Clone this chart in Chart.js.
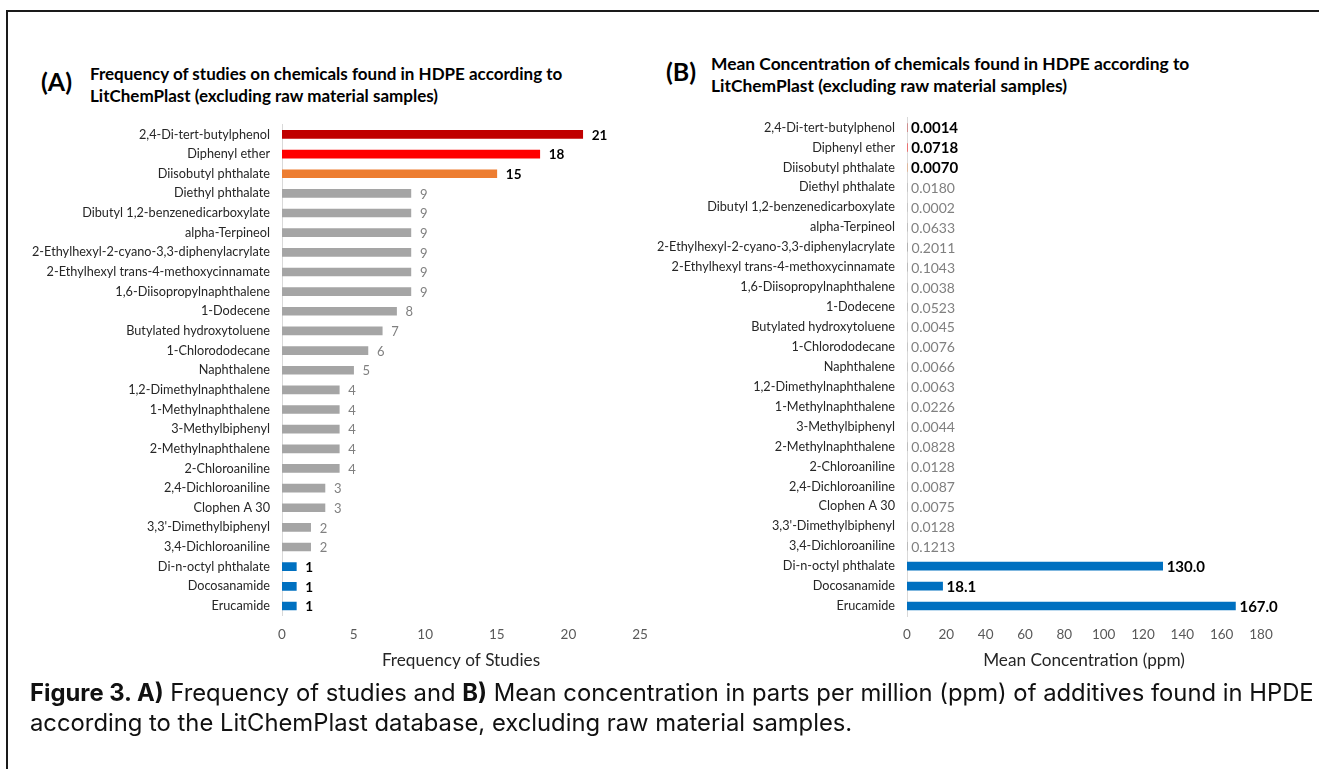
<!DOCTYPE html>
<html>
<head>
<meta charset="utf-8">
<script src="https://cdn.jsdelivr.net/npm/chart.js@4.4.1/dist/chart.umd.min.js"></script>
<style>
  html, body { margin: 0; padding: 0; background: #fff; }
  body { width: 1319px; height: 769px; position: relative; overflow: hidden; }
  .frame-top { position: absolute; left: 6px; top: 10px; width: 1320px; height: 2px; background: #1a1a1a; }
  .frame-left { position: absolute; left: 6px; top: 10px; width: 2px; height: 770px; background: #1a1a1a; }
  .panel-tag { position: absolute; font-family: Lato, sans-serif; font-weight: 700; font-size: 25px; color: #000; }
  .panel-title { position: absolute; font-family: Lato, sans-serif; font-weight: 700; font-size: 17px; line-height: 22px; color: #000; white-space: nowrap; }
  canvas { position: absolute; }
  .caption { position: absolute; left: 30px; top: 678px; font-family: Inter, Roboto, sans-serif; font-size: 23.8px; line-height: 30px; color: #111; white-space: nowrap; }
  .caption b { font-weight: 700; }
</style>
</head>
<body>
<div class="frame-top"></div>
<div class="frame-left"></div>

<div class="panel-tag" style="left:41px; top:66px;">(A)</div>
<div class="panel-title" style="left:90px; top:63px;">Frequency of studies on chemicals found in HDPE according to<br>LitChemPlast (excluding raw material samples)</div>

<div class="panel-tag" style="left:666px; top:56px;">(B)</div>
<div class="panel-title" style="left:711px; top:53px; font-size:17.4px;">Mean Concentration of chemicals found in HDPE according to<br>LitChemPlast (excluding raw material samples)</div>

<canvas id="chartA" width="640" height="575" style="left:20px; top:105px;"></canvas>
<canvas id="chartB" width="679" height="582" style="left:640px; top:98px;"></canvas>

<div class="caption"><b>Figure 3. A)</b> Frequency of studies and <b>B)</b> Mean concentration in parts per million (ppm) of additives found in HPDE<br>according to the LitChemPlast database, excluding raw material samples.</div>

<script>
// Chemicals, listed top to bottom
const chemicals = [
  '2,4-Di-tert-butylphenol', 'Diphenyl ether', 'Diisobutyl phthalate', 'Diethyl phthalate',
  'Dibutyl 1,2-benzenedicarboxylate', 'alpha-Terpineol', '2-Ethylhexyl-2-cyano-3,3-diphenylacrylate',
  '2-Ethylhexyl trans-4-methoxycinnamate', '1,6-Diisopropylnaphthalene', '1-Dodecene',
  'Butylated hydroxytoluene', '1-Chlorododecane', 'Naphthalene', '1,2-Dimethylnaphthalene',
  '1-Methylnaphthalene', '3-Methylbiphenyl', '2-Methylnaphthalene', '2-Chloroaniline',
  '2,4-Dichloroaniline', 'Clophen A 30', "3,3'-Dimethylbiphenyl", '3,4-Dichloroaniline',
  'Di-n-octyl phthalate', 'Docosanamide', 'Erucamide'
];

// Number of studies reporting each chemical
const studyFrequency = [21, 18, 15, 9, 9, 9, 9, 9, 9, 8, 7, 6, 5, 4, 4, 4, 4, 4, 3, 3, 2, 2, 1, 1, 1];

// Mean concentration (ppm)
const meanConcentration = [
  0.0014, 0.0718, 0.0070, 0.0180, 0.0002, 0.0633, 0.2011, 0.1043, 0.0038, 0.0523,
  0.0045, 0.0076, 0.0066, 0.0063, 0.0226, 0.0044, 0.0828, 0.0128, 0.0087, 0.0075,
  0.0128, 0.1213, 130.0, 18.1, 167.0
];

// Axis tick settings
const frequencyTicks = { min: 0, max: 25, step: 5 };
const concentrationTicks = { min: 0, max: 180, step: 20 };

// Highlight groups
const highlighted = [0, 1, 2, 22, 23, 24];

const RED_DARK = '#C00000', RED = '#FF0000', ORANGE = '#ED7D31', GREY = '#A5A5A5', BLUE = '#0070C0';
function barColour(i) {
  if (i === 0) return RED_DARK;
  if (i === 1) return RED;
  if (i === 2) return ORANGE;
  if (i >= 22) return BLUE;
  return GREY;
}
const barColours = chemicals.map((_, i) => barColour(i));

// Writes each bar's value just past its end
function valueLabels(formatter, gap, boldSize, plainSize) {
  return {
    id: 'valueLabels',
    afterDatasetsDraw(chart) {
      const ctx = chart.ctx;
      const meta = chart.getDatasetMeta(0);
      const values = chart.data.datasets[0].data;
      ctx.save();
      ctx.textBaseline = 'middle';
      ctx.textAlign = 'left';
      meta.data.forEach((bar, i) => {
        const strong = highlighted.includes(i);
        ctx.font = strong ? `700 ${boldSize}px Lato, sans-serif` : `400 ${plainSize}px Lato, sans-serif`;
        ctx.fillStyle = strong ? '#000000' : '#808080';
        ctx.fillText(formatter(values[i]), bar.x + gap, bar.y + 1);
      });
      ctx.restore();
    }
  };
}

function buildOptions(tickCfg, axisTitle, yWidth, xHeight) {
  return {
    indexAxis: 'y',
    responsive: false,
    animation: false,
    layout: { padding: { top: 0, right: tickCfg.rightPad, bottom: 0, left: 0 } },
    plugins: { legend: { display: false }, tooltip: { enabled: false } },
    scales: {
      x: {
        min: tickCfg.min,
        max: tickCfg.max,
        ticks: { stepSize: tickCfg.step, padding: 11, color: '#595959', font: { family: 'Lato, sans-serif', size: 13.5 } },
        grid: { display: false, drawTicks: false },
        border: { display: false },
        title: { display: true, text: axisTitle, color: '#262626', font: { family: 'Lato, sans-serif', size: 17.2 }, padding: { top: 0, bottom: 9 } },
        afterFit(scale) { scale.height = xHeight; }
      },
      y: {
        ticks: { padding: 12, color: '#262626', autoSkip: false, font: { family: 'Lato, sans-serif', size: 12.7 } },
        grid: { display: false, drawTicks: false },
        border: { display: true, color: '#D9D9D9', width: 1 },
        afterFit(scale) { scale.width = yWidth; }
      }
    }
  };
}

Chart.defaults.font.family = 'Lato, sans-serif';

new Chart(document.getElementById('chartA'), {
  type: 'bar',
  data: {
    labels: chemicals,
    datasets: [{ data: studyFrequency, backgroundColor: barColours, barThickness: 8, borderWidth: 0 }]
  },
  options: buildOptions({ ...frequencyTicks, rightPad: 20 }, 'Frequency of Studies', 262, 64.2),
  plugins: [valueLabels(v => String(v), 9, 13.5, 13)]
});

new Chart(document.getElementById('chartB'), {
  type: 'bar',
  data: {
    labels: chemicals,
    datasets: [{ data: meanConcentration, backgroundColor: barColours, barThickness: 8, borderWidth: 0 }]
  },
  options: buildOptions({ ...concentrationTicks, rightPad: 58 }, 'Mean Concentration (ppm)', 267, 64),
  plugins: [valueLabels(v => v >= 1 ? v.toFixed(1) : v.toFixed(4), 4, 15, 14)]
});
</script>
</body>
</html>
